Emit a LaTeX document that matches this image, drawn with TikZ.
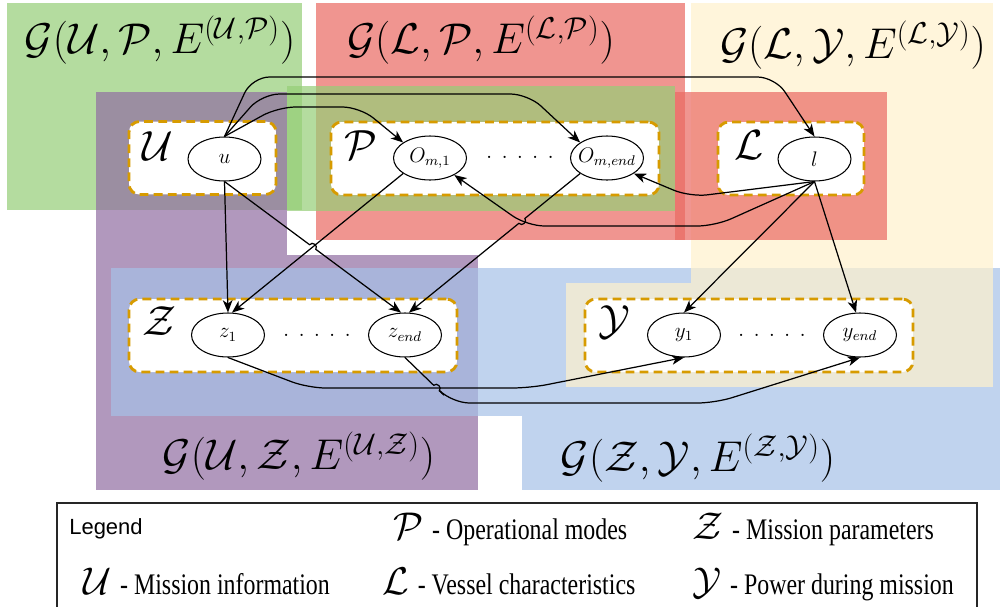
\RequirePackage{fix-cm}
\documentclass[tikz,border=0pt]{standalone}
\usepackage{fontspec}
\usepackage{graphicx}
\newfontfamily\legsans{Liberation Sans}
\newfontfamily\legserif{Liberation Serif}
\usetikzlibrary{shapes.geometric,arrows.meta,intersections,calc}
\definecolor{cgreen}{RGB}{149,206,119}
\definecolor{cred}{RGB}{234,105,98}
\definecolor{cyellow}{RGB}{255,241,205}
\definecolor{cblue}{RGB}{166,193,231}
\definecolor{cpurple}{RGB}{145,109,162}
\definecolor{corange}{RGB}{215,155,0}
\newcommand\legsym[1]{{\fontsize{22}{26}\selectfont$\mathcal{#1}$}\hspace{5pt}}
\newcommand\legtxt[1]{{\legserif\fontsize{17}{20}\selectfont\scalebox{0.8}[1]{#1}}}
\newcommand\fivedots{.\hspace{5.2pt}.\hspace{5.2pt}.\hspace{5.2pt}.\hspace{5.2pt}.}
\newcommand\stxt[1]{\makebox[0pt][c]{#1}}
\begin{document}
\begin{tikzpicture}[x=0.02cm,y=-0.02cm,
  region/.style={fill opacity=0.7},
  stage/.style={draw, ellipse, minimum width=1.46cm, minimum height=0.88cm, inner sep=0pt, line width=0.6pt, fill=white, font=\fontsize{12}{14}\selectfont},
  groupbox/.style={draw=corange, line width=1.6pt, dash pattern=on 5pt off 3pt, fill=white, rounded corners=6pt, minimum height=1.46cm, inner sep=0pt},
  arr/.style={-{Stealth[length=7pt,width=5.5pt,inset=2pt]}, line width=0.7pt, rounded corners=10pt},
  arrs/.style={-{Stealth[length=7pt,width=5.5pt,inset=2pt]}, line width=0.7pt},
  plainline/.style={line width=0.7pt},
  hop/.style={bend left=90, looseness=1.5},
  title/.style={font=\fontsize{24.5}{29}\selectfont, inner sep=0pt},
  setlabel/.style={font=\fontsize{24}{28}\selectfont, inner sep=0pt},
  dotsnode/.style={font=\fontsize{13}{15}\selectfont, inner sep=0pt},
  legnode/.style={anchor=base west, inner sep=0pt}
  ]
\useasboundingbox (0,0) rectangle (1002,606);
\fill[white] (0,0) rectangle (1002,606);
% regions
\fill[region, cgreen] (7,3) rectangle (302,210);
\fill[region, cred] (316,3) rectangle (685,240);
\fill[region, cpurple] (96,255) rectangle (478,490);
\fill[region, cblue] (111,268) rectangle (1000,416);
\fill[region, cblue] (522,416) rectangle (1000,490);
\fill[region, cyellow] (691,3) rectangle (993,283);
\fill[region, cyellow] (566,283) rectangle (993,387);
\fill[region, cred] (675,92) rectangle (887,240);
\fill[region, cgreen] (287,86) rectangle (675,211);
\fill[region, cpurple] (96,92) rectangle (287,255);
% titles
\node[title] (tUP) at (160,40) {$\mathcal{G}(\mathcal{U},\mathcal{P},E^{(\mathcal{U},\mathcal{P})})$};
\node[title] (tLP) at (481,40) {$\mathcal{G}(\mathcal{L},\mathcal{P},E^{(\mathcal{L},\mathcal{P})})$};
\node[title] (tLY) at (853,45) {$\mathcal{G}(\mathcal{L},\mathcal{Y},E^{(\mathcal{L},\mathcal{Y})})$};
\node[title] (tUZ) at (299,456) {$\mathcal{G}(\mathcal{U},\mathcal{Z},E^{(\mathcal{U},\mathcal{Z})})$};
\node[title] (tZY) at (698,458) {$\mathcal{G}(\mathcal{Z},\mathcal{Y},E^{(\mathcal{Z},\mathcal{Y})})$};
% group boxes
\node[groupbox, minimum width=2.94cm] (bU) at (202.5,158) {};
\node[groupbox, minimum width=6.56cm] (bP) at (495,158.5) {};
\node[groupbox, minimum width=2.92cm] (bL) at (791,158.5) {};
\node[groupbox, minimum width=6.56cm] (bZ) at (293,335.5) {};
\node[groupbox, minimum width=6.56cm] (bY) at (749,335.5) {};
% set labels
\node[setlabel] (sU) at (158,146) {$\mathcal{U}$};
\node[setlabel] (sP) at (361,145) {$\mathcal{P}$};
\node[setlabel] (sL) at (749,145) {$\mathcal{L}$};
\node[setlabel] (sZ) at (159,321) {$\mathcal{Z}$};
\node[setlabel] (sY) at (614,322) {$\mathcal{Y}$};
% stages
\node[stage] (u) at (224.5,159) {\stxt{$u$}};
\node[stage] (O1) at (430,158) {\stxt{$O_{m,1}$}};
\node[stage] (Oe) at (607,158) {\stxt{$O_{m,end}$}};
\node[stage] (l) at (814.5,159) {\stxt{$l$}};
\node[stage] (z1) at (228,335) {\stxt{$z_1$}};
\node[stage] (ze) at (405,335) {\stxt{$z_{end}$}};
\node[stage] (y1) at (684,335) {\stxt{$y_1$}};
\node[stage] (ye) at (860,335) {\stxt{$y_{end}$}};
% dots
\node[dotsnode] (dP) at (520,157) {\fivedots};
\node[dotsnode] (dZ) at (317,335) {\fivedots};
\node[dotsnode] (dY) at (772,335) {\fivedots};
% connectors
\draw[arr] (u.north) -- (252,77) -- (775,77) -- (l.north);
\draw[arr] (u.north) -- (262,94) -- (528,94) -- (Oe.150);
\draw[arr] (u.north) -- (278,107) -- (360,107) -- (O1.150);
\draw[arr] (u.south) -- (z1.north);
\draw[arr, name path=pO1z1] (O1.-150) -- (z1.80);
\path[name path=puze] (u.south) -- (ze.100);
\path[name intersections={of=pO1z1 and puze, by=X1}];
\draw[arrs] (u.south) -- ($(X1)!2.2pt!(u.south)$) to[hop] ($(X1)!2.2pt!(ze.100)$) -- (ze.100);
\draw[arr, name path=plO1] (l.south) -- (715,226) -- (527,226) -- (O1.-35);
\path[name path=pOeze] (Oe.-150) -- (ze.80);
\path[name intersections={of=plO1 and pOeze, by=X2}];
\draw[arrs] (Oe.-150) -- ($(X2)!2.2pt!(Oe.-150)$) to[hop] ($(X2)!2.2pt!(ze.80)$) -- (ze.80);
\draw[arr] (l.south) -- (690,197) -- (Oe.-30);
\draw[arr] (l.south) -- (y1.north);
\draw[arr] (l.south) -- (ye.100);
\draw[arr, name path=pz1y1] (z1.south) -- (308,388) -- (530,388) -- (y1.south);
\coordinate (K1) at (452,403);
\coordinate (K0) at (444,395);
\path[name path=pzeye] (ze.south) -- (K1);
\path[name intersections={of=pz1y1 and pzeye, by=X3}];
\draw[plainline] (ze.south) -- ($(X3)!2.2pt!(ze.south)$) to[hop] ($(X3)!2.2pt!(K1)$) -- (K0);
\draw[arr] (K0) -- (K1) -- (715,403) -- (ye.south);
% legend
\draw[line width=0.6pt, draw=black!85] (57,503) rectangle (977,640);
\node[legnode] (legT) at (69,534) {\legsans\fontsize{12.5}{15}\selectfont Legend};
\node[legnode] (legP) at (393,539) {\legsym{P}\legtxt{- Operational modes}};
\node[legnode] (legZ) at (692,539) {\legsym{Z}\legtxt{- Mission parameters}};
\node[legnode] (legU) at (83,594) {\legsym{U}\legtxt{- Mission information}};
\node[legnode] (legL) at (382,594) {\legsym{L}\legtxt{- Vessel characteristics}};
\node[legnode] (legY) at (692,594) {\legsym{Y}\legtxt{- Power during mission}};
\end{tikzpicture}
\end{document}
